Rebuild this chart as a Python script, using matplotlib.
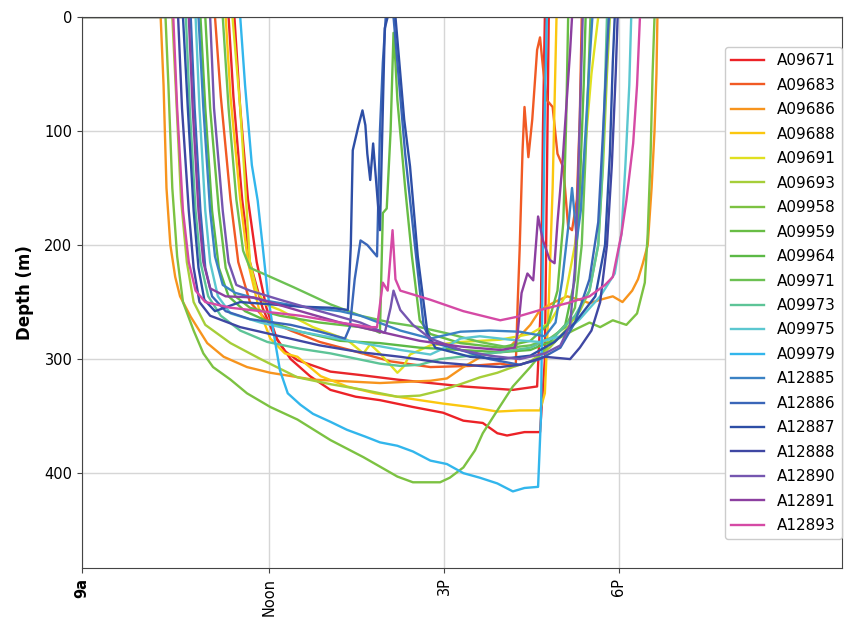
import matplotlib.pyplot as plt

plt.rcParams['font.family'] = ['DejaVu Sans']

# dive profiles: (minutes after midnight, depth in m)
A09671 = [(527, 0), (684, 0), (690, 80), (698, 160), (707, 215), (717, 255), (728, 283),
          (742, 300), (762, 315), (783, 327), (809, 333), (834, 336), (868, 342), (899, 347),
          (920, 354), (940, 356), (955, 365), (965, 367), (983, 364), (999, 364), (1004, 300),
          (1006, 150), (1008, 0), (1310, 0)]
A09683 = [(527, 0), (664, 0), (670, 70), (680, 160), (688, 215), (700, 250), (716, 265),
          (742, 275), (772, 285), (803, 292), (845, 302), (886, 307), (927, 306), (958, 304),
          (974, 306), (976, 250), (978, 204), (981, 117), (983, 79), (987, 123), (991, 90),
          (996, 29), (999, 18), (1002, 44), (1006, 73), (1012, 79), (1017, 120), (1023, 132),
          (1028, 184), (1032, 187), (1037, 160), (1040, 88), (1042, 0), (1310, 0)]
A09686 = [(527, 0), (608, 0), (611, 60), (614, 150), (618, 200), (623, 228), (628, 245),
          (639, 263), (656, 286), (673, 298), (697, 307), (721, 312), (765, 318), (834, 321),
          (886, 319), (903, 317), (920, 307), (942, 296), (965, 292), (989, 270), (999, 257),
          (1014, 250), (1027, 245), (1040, 248), (1050, 251), (1061, 248), (1074, 245),
          (1084, 250), (1094, 240), (1100, 230), (1105, 216), (1110, 200), (1114, 150),
          (1117, 100), (1119, 50), (1120, 0), (1310, 0)]
A09688 = [(527, 0), (675, 0), (680, 70), (690, 160), (698, 215), (709, 255), (721, 282),
          (736, 295), (749, 298), (773, 315), (800, 324), (829, 330), (852, 333), (875, 336),
          (899, 339), (927, 342), (955, 346), (978, 345), (999, 345), (1004, 330), (1008, 250),
          (1012, 150), (1016, 0), (1310, 0)]
A09691 = [(527, 0), (682, 0), (690, 80), (696, 160), (700, 215), (707, 240), (716, 252),
          (731, 257), (765, 272), (800, 283), (817, 295), (824, 287), (834, 295), (852, 312),
          (858, 307), (865, 296), (886, 288), (917, 285), (958, 283), (989, 278), (1009, 268),
          (1025, 245), (1035, 200), (1045, 120), (1052, 50), (1059, 0), (1310, 0)]
A09693 = [(527, 0), (620, 0), (624, 70), (629, 160), (635, 215), (642, 250), (654, 270),
          (680, 286), (711, 300), (749, 316), (783, 322), (817, 327), (852, 333), (875, 332),
          (899, 327), (917, 322), (937, 316), (955, 312), (971, 307), (989, 302), (1009, 290),
          (1025, 275), (1040, 258), (1050, 240), (1059, 200), (1064, 130), (1068, 50),
          (1071, 0), (1310, 0)]
A09958 = [(527, 0), (613, 0), (616, 60), (620, 150), (625, 210), (631, 250), (642, 275),
          (652, 295), (662, 307), (680, 318), (697, 330), (721, 342), (749, 353), (783, 371),
          (817, 386), (852, 403), (868, 408), (896, 408), (906, 404), (920, 395), (932, 380),
          (940, 365), (955, 345), (971, 324), (989, 307), (1009, 286), (1033, 275), (1050, 268),
          (1061, 272), (1074, 266), (1088, 270), (1099, 260), (1107, 233), (1110, 190),
          (1113, 120), (1115, 50), (1117, 0), (1310, 0)]
A09959 = [(527, 0), (654, 0), (659, 80), (668, 170), (675, 220), (685, 245), (700, 255),
          (731, 262), (772, 268), (814, 272), (829, 275), (834, 277), (837, 172), (841, 168),
          (845, 100), (848, 14), (850, 40), (852, 73), (860, 150), (867, 210), (875, 266),
          (886, 278), (917, 286), (958, 290), (989, 284), (1007, 270), (1017, 240), (1023, 180),
          (1026, 90), (1028, 0), (1310, 0)]
A09964 = [(527, 0), (649, 0), (654, 80), (661, 170), (668, 220), (678, 245), (695, 258),
          (721, 268), (752, 276), (793, 284), (834, 286), (875, 290), (917, 292), (958, 294),
          (989, 292), (1009, 285), (1025, 270), (1035, 230), (1040, 150), (1044, 60),
          (1046, 0), (1310, 0)]
A09971 = [(527, 0), (672, 0), (678, 80), (686, 160), (693, 205), (700, 220), (716, 226),
          (745, 237), (783, 252), (814, 262), (845, 268), (875, 272), (906, 278), (937, 285),
          (968, 290), (989, 288), (1009, 282), (1025, 272), (1035, 255), (1042, 200),
          (1046, 120), (1049, 50), (1051, 0), (1310, 0)]
A09973 = [(527, 0), (634, 0), (638, 80), (644, 170), (649, 215), (657, 245), (670, 262),
          (690, 275), (718, 285), (752, 291), (783, 295), (834, 304), (855, 306), (875, 305),
          (896, 300), (927, 297), (958, 294), (989, 290), (1014, 280), (1035, 262), (1050, 240),
          (1059, 200), (1063, 140), (1066, 60), (1068, 0), (1310, 0)]
A09975 = [(527, 0), (644, 0), (648, 80), (654, 170), (659, 215), (667, 245), (680, 260),
          (711, 268), (752, 276), (803, 284), (855, 292), (886, 296), (901, 290), (917, 282),
          (937, 280), (968, 283), (999, 285), (1020, 280), (1040, 265), (1061, 245),
          (1076, 225), (1083, 190), (1087, 130), (1091, 60), (1093, 0), (1310, 0)]
A09979 = [(527, 0), (690, 0), (695, 60), (702, 130), (708, 161), (713, 200), (718, 240),
          (724, 275), (731, 310), (739, 330), (752, 340), (765, 348), (783, 355), (800, 362),
          (819, 368), (834, 373), (852, 376), (868, 381), (886, 389), (903, 392), (920, 400),
          (937, 404), (955, 409), (971, 416), (983, 413), (997, 412), (1000, 350), (1002, 200),
          (1004, 80), (1006, 0), (1310, 0)]
A12885 = [(527, 0), (647, 0), (652, 80), (659, 170), (664, 210), (672, 235), (685, 242),
          (711, 248), (752, 254), (793, 258), (814, 262), (855, 275), (886, 282), (917, 276),
          (947, 275), (978, 276), (1004, 280), (1015, 268), (1022, 230), (1028, 185),
          (1032, 150), (1037, 195), (1041, 170), (1046, 100), (1050, 40), (1053, 0), (1310, 0)]
A12886 = [(527, 0), (639, 0), (643, 80), (649, 170), (654, 220), (661, 245), (675, 258),
          (700, 265), (742, 270), (772, 276), (798, 282), (803, 272), (808, 230), (814, 196),
          (821, 200), (831, 210), (834, 100), (837, 40), (840, 0), (848, 0), (852, 40),
          (860, 120), (870, 200), (879, 270), (886, 285), (917, 292), (947, 300), (978, 305),
          (999, 300), (1020, 290), (1035, 268), (1050, 230), (1059, 180), (1064, 100),
          (1068, 30), (1070, 0), (1310, 0)]
A12887 = [(527, 0), (631, 0), (636, 80), (642, 170), (647, 220), (653, 248), (664, 258),
          (690, 250), (721, 252), (752, 254), (783, 255), (801, 257), (804, 200), (806, 117),
          (812, 95), (816, 82), (819, 95), (821, 120), (824, 143), (827, 111), (831, 154),
          (834, 187), (837, 80), (839, 10), (842, 0), (850, 0), (853, 30), (859, 90),
          (865, 131), (873, 210), (883, 277), (891, 290), (927, 298), (958, 300), (989, 297),
          (1014, 285), (1035, 268), (1056, 245), (1066, 200), (1071, 120), (1074, 40),
          (1076, 0), (1310, 0)]
A12888 = [(527, 0), (626, 0), (630, 80), (637, 170), (642, 220), (648, 250), (659, 262),
          (690, 272), (731, 280), (772, 288), (814, 294), (855, 298), (896, 303), (937, 306),
          (958, 307), (978, 305), (1004, 298), (1030, 300), (1040, 290), (1052, 275),
          (1061, 250), (1068, 200), (1073, 130), (1077, 50), (1079, 0), (1310, 0)]
A12890 = [(527, 0), (659, 0), (663, 80), (672, 170), (678, 215), (686, 235), (700, 240),
          (731, 248), (772, 258), (814, 268), (839, 277), (845, 255), (848, 240), (852, 250),
          (855, 257), (868, 270), (886, 282), (917, 292), (947, 297), (978, 300), (1004, 295),
          (1020, 288), (1030, 270), (1035, 220), (1038, 150), (1041, 60), (1043, 0), (1310, 0)]
A12891 = [(527, 0), (637, 0), (641, 80), (647, 170), (652, 215), (659, 238), (675, 245),
          (704, 246), (752, 258), (793, 268), (834, 276), (875, 284), (917, 289), (958, 292),
          (973, 290), (976, 277), (980, 242), (986, 225), (992, 231), (997, 175), (1002, 196),
          (1009, 213), (1014, 216), (1017, 180), (1022, 130), (1026, 80), (1030, 30),
          (1032, 0), (1310, 0)]
A12893 = [(527, 0), (621, 0), (625, 80), (631, 170), (637, 215), (644, 240), (654, 250),
          (680, 255), (711, 258), (752, 262), (793, 268), (824, 272), (831, 272), (837, 233),
          (842, 240), (847, 187), (850, 230), (855, 240), (886, 248), (920, 258), (958, 266),
          (975, 263), (999, 257), (1027, 251), (1050, 245), (1066, 235), (1074, 228),
          (1083, 190), (1088, 161), (1095, 111), (1099, 60), (1102, 0), (1310, 0)]
# second red trace seen in the figure
red_extra = [(527, 0), (678, 0), (683, 70), (692, 160), (700, 215), (713, 255), (724, 277),
             (736, 293), (749, 301), (783, 311), (814, 314), (852, 318), (886, 321), (920, 324),
             (971, 327), (996, 324), (1000, 250), (1002, 100), (1004, 0), (1310, 0)]

tags = ['A09671', 'A09683', 'A09686', 'A09688', 'A09691', 'A09693', 'A09958', 'A09959',
        'A09964', 'A09971', 'A09973', 'A09975', 'A09979', 'A12885', 'A12886', 'A12887',
        'A12888', 'A12890', 'A12891', 'A12893']
profiles = [A09671, A09683, A09686, A09688, A09691, A09693, A09958, A09959, A09964, A09971,
            A09973, A09975, A09979, A12885, A12886, A12887, A12888, A12890, A12891, A12893]
colors = ['#ec2227', '#f15a24', '#f7941d', '#fbc70f', '#e0e020', '#a6ce39', '#7cc242',
          '#68bd45', '#5cb946', '#6cc153', '#5dc497', '#5bc7d0', '#32b6ec', '#3b82c4',
          '#3a66b8', '#2d4ea6', '#3f47a3', '#7556b0', '#8c3fa0', '#d54aa5']

tick_pos = [527 / 60, 12, 15, 18]
tick_txt = ['9a', 'Noon', '3P', '6P']


fig = plt.figure(figsize=(8.46, 6.24), dpi=100)
ax = fig.add_axes([0.097, 0.09, 0.898, 0.883])

ax.plot([p[0] / 60 for p in red_extra], [p[1] for p in red_extra],
        color='#e8262b', lw=1.7, label='_nolegend_')
for tag, prof, c in zip(tags, profiles, colors):
    ax.plot([p[0] / 60 for p in prof], [p[1] for p in prof], color=c, lw=1.7, label=tag)

ax.set_xlim(527 / 60, 1310 / 60)
ax.set_ylim(483, 0)
ax.set_yticks([0, 100, 200, 300, 400])
ax.set_xticks(tick_pos)
ax.set_xticklabels(tick_txt, rotation=90)
ax.get_xticklabels()[0].set_fontweight('bold')
ax.tick_params(labelsize=10.5, color='#444444')
ax.grid(color='#d6d6d6', lw=1)
for s in ax.spines.values():
    s.set_color('#444444')
ax.set_ylabel('Depth (m)', fontsize=12, fontweight='bold', labelpad=7)

ax.legend(loc='upper right', bbox_to_anchor=(1.0, 0.945), borderaxespad=0,
          fontsize=11, labelspacing=0.62, handlelength=2.2, handletextpad=0.8,
          framealpha=1, edgecolor='#cccccc')

plt.savefig('out.png')
